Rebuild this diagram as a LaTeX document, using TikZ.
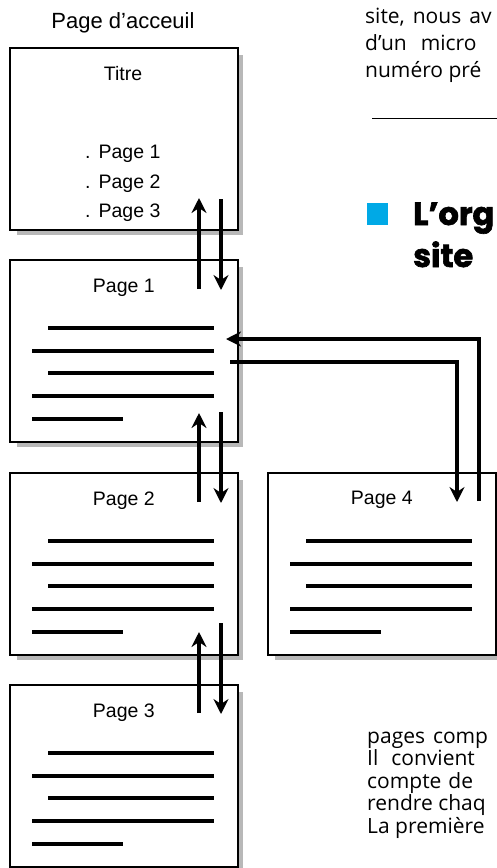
\documentclass[tikz,border=0pt]{standalone}
\usepackage{fontspec}
\setmainfont{Liberation Sans}
\newfontfamily\bodyfont{Open Sans}
\newfontfamily\headfont{Poppins}[BoldFeatures={FakeBold=2}]
\usetikzlibrary{arrows.meta,calc}
\definecolor{headcyan}{HTML}{00A9E6}
\tikzset{
  pagebox/.style={draw,line width=1.7pt,fill=white,minimum width=228pt,minimum height=182pt,inner sep=0pt,anchor=north west},
  shadowfill/.style={fill=black!28},
  tline/.style={line width=3.3pt},
  arr/.style={line width=3.2pt,-{Stealth[length=15pt,width=15pt,inset=5pt]}},
  lbl/.style={font=\fontsize{19.5}{21}\selectfont,anchor=base,inner sep=0pt},
  body/.style={font=\bodyfont\fontsize{21}{23}\selectfont,anchor=base west,inner sep=0pt},
  head/.style={font=\headfont\bfseries\fontsize{32}{36}\selectfont,anchor=base west,inner sep=0pt},
}
\newcommand{\pagewithshadow}[3]{%
  \fill[shadowfill] (#2+8,#3+8) rectangle (#2+234,#3+188);
  \node[pagebox] (#1) at (#2,#3) {};
}
\newcommand{\pagelines}[1]{%
  \draw[tline] ($(#1.north west)+(39,69)$) -- ($(#1.north west)+(205,69)$);
  \draw[tline] ($(#1.north west)+(23,92)$) -- ($(#1.north west)+(205,92)$);
  \draw[tline] ($(#1.north west)+(39,114)$) -- ($(#1.north west)+(205,114)$);
  \draw[tline] ($(#1.north west)+(23,137)$) -- ($(#1.north west)+(205,137)$);
  \draw[tline] ($(#1.north west)+(23,160)$) -- ($(#1.north west)+(114,160)$);
}
\begin{document}
\begin{tikzpicture}[x=1pt,y=-1pt]
\useasboundingbox (0,0) rectangle (497,868);
\begin{scope}
\clip (0,0) rectangle (497,868);

% title
\node[lbl,font=\fontsize{22}{24}\selectfont] (acc) at (123,28) {Page d’acceuil};

% pages
\pagewithshadow{p0}{9}{47}
\pagewithshadow{p1}{9}{259}
\pagewithshadow{p2}{9}{472}
\pagewithshadow{p3}{9}{684}
\pagewithshadow{p4}{267}{472}

% home page contents
\node[lbl] (titre) at (123,80) {Titre};
\node[lbl,anchor=base west] (l1) at (85,158) {.\hspace{8pt}Page 1};
\node[lbl,anchor=base west] (l2) at (85,188) {.\hspace{8pt}Page 2};
\node[lbl,anchor=base west] (l3) at (85,217) {.\hspace{8pt}Page 3};

% page labels
\node[lbl] (t1) at ($(p1.north)+(0,33)$) {Page 1};
\node[lbl] (t2) at ($(p2.north)+(0,33)$) {Page 2};
\node[lbl] (t3) at ($(p3.north)+(0,33)$) {Page 3};
\node[lbl] (t4) at ($(p4.north)+(0,32)$) {Page 4};

\pagelines{p1}
\pagelines{p2}
\pagelines{p3}
\pagelines{p4}

% connector end points
\coordinate (u01a) at (199,289); \coordinate (u01b) at (199,198);
\coordinate (d01a) at (221,199); \coordinate (d01b) at (221,290);
\coordinate (u12a) at (199,502); \coordinate (u12b) at (199,413);
\coordinate (d12a) at (221,412); \coordinate (d12b) at (221,503);
\coordinate (u23a) at (199,713); \coordinate (u23b) at (199,632);
\coordinate (d23a) at (221,623); \coordinate (d23b) at (221,714);
\coordinate (g14a) at (230,362); \coordinate (g14b) at (457,502);
\coordinate (g41a) at (479,501); \coordinate (g41b) at (226,339);

\draw[arr] (u01a) -- (u01b);
\draw[arr] (d01a) -- (d01b);
\draw[arr] (u12a) -- (u12b);
\draw[arr] (d12a) -- (d12b);
\draw[arr] (u23a) -- (u23b);
\draw[arr] (d23a) -- (d23b);
\draw[arr] (g14a) -| (g14b);
\draw[arr] (g41a) |- (g41b);

% surrounding page text
\node[body] (s1) at (365,23) {site,\hspace{8pt}nous\hspace{8pt}av};
\node[body] (s2) at (365,50) {d’un\hspace{14pt}micro};
\node[body] (s3) at (365,77) {numéro pré};
\draw[line width=1pt] (372,118) -- (497,118);
\fill[headcyan] (367,203) rectangle (388,225);
\node[head] (h1) at (413,225) {L’org};
\node[head] (h2) at (413,267) {site};

\node[body] (b1) at (367,743) {pages\hspace{8pt}comp};
\node[body] (b2) at (367,765) {Il\hspace{13pt}convient};
\node[body] (b3) at (367,788) {compte\hspace{7pt}de};
\node[body] (b4) at (367,810) {rendre chaq};
\node[body] (b5) at (367,833) {La première};
\end{scope}
\end{tikzpicture}
\end{document}
